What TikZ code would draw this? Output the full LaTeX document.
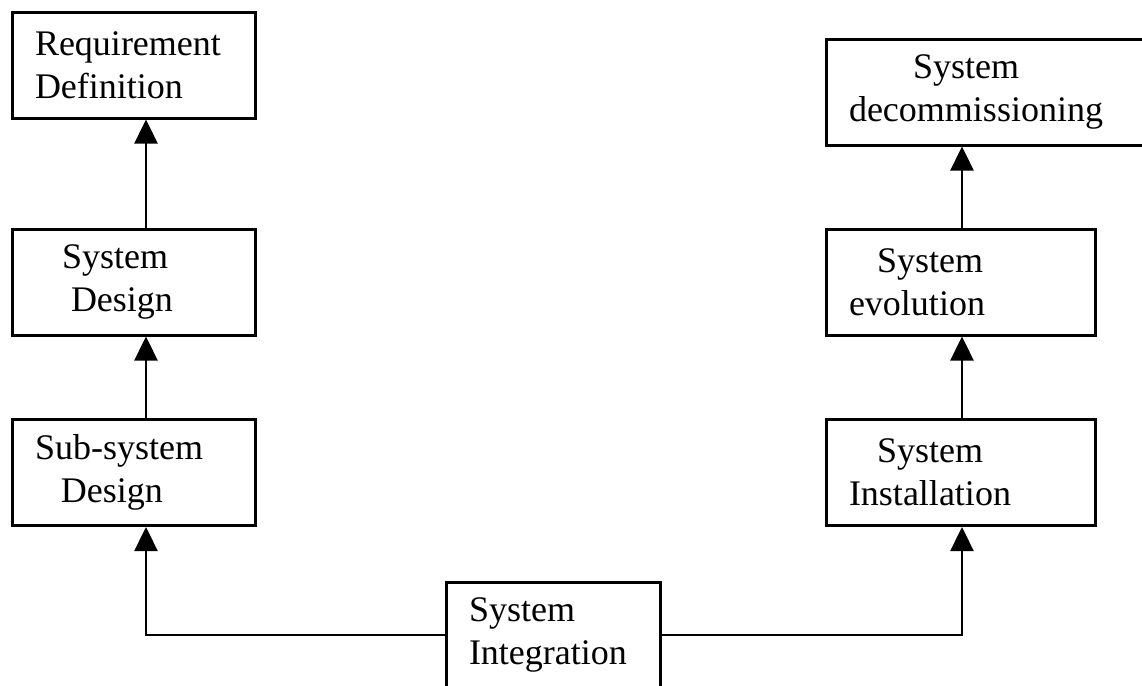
\documentclass[tikz,border=0pt]{standalone}
\usepackage{fontspec}
\setmainfont{Liberation Serif}
\usetikzlibrary{arrows.meta, positioning}

\begin{document}
\begin{tikzpicture}[x=0.5pt, y=-0.5pt]
\tikzstyle{stage}=[rectangle, draw=black, line width=1.5pt, align=left, inner xsep=11.25pt, inner ysep=0pt, minimum height=53pt, font=\fontsize{18}{21.5}\selectfont]
\tikzstyle{connect}=[-{Triangle[width=11.5pt, length=12pt]}, line width=1.2pt]
\useasboundingbox (0,0) rectangle (1142,686);
\coordinate (lcol) at (146,0);
\coordinate (rcol) at (962,0);
% left side
\node[stage, minimum width=121.5pt, text width=99pt] (req) at (134,65) {Requirement\\Definition};
\node[stage, minimum width=121.5pt, text width=99pt] (sysdes) at (134,282) {\hspace*{13.5pt}System\\\hspace*{18pt}Design};
\node[stage, minimum width=121.5pt, text width=99pt] (subdes) at (134,472.5) {Sub-system\\\hspace*{13pt}Design};
% bottom
\node[stage, minimum width=107pt, text width=84.5pt] (integ) at (553.5,635) {System\\Integration};
% right side
\node[stage, minimum width=161.75pt, text width=139pt] (decom) at (988,92) {\hspace*{32pt}System\\decommissioning};
\node[stage, minimum width=134.5pt, text width=112pt] (evol) at (961,282) {\hspace*{14pt}System\\evolution};
\node[stage, minimum width=134.5pt, text width=112pt] (install) at (961,472.5) {\hspace*{14pt}System\\Installation};
\draw[connect] (sysdes.north -| lcol) -- (req.south -| lcol);
\draw[connect] (subdes.north -| lcol) -- (sysdes.south -| lcol);
\draw[connect] (integ.west) -| (subdes.south -| lcol);
\draw[connect] (integ.east) -| (install.south -| rcol);
\draw[connect] (install.north -| rcol) -- (evol.south -| rcol);
\draw[connect] (evol.north -| rcol) -- (decom.south -| rcol);
\end{tikzpicture}
\end{document}
